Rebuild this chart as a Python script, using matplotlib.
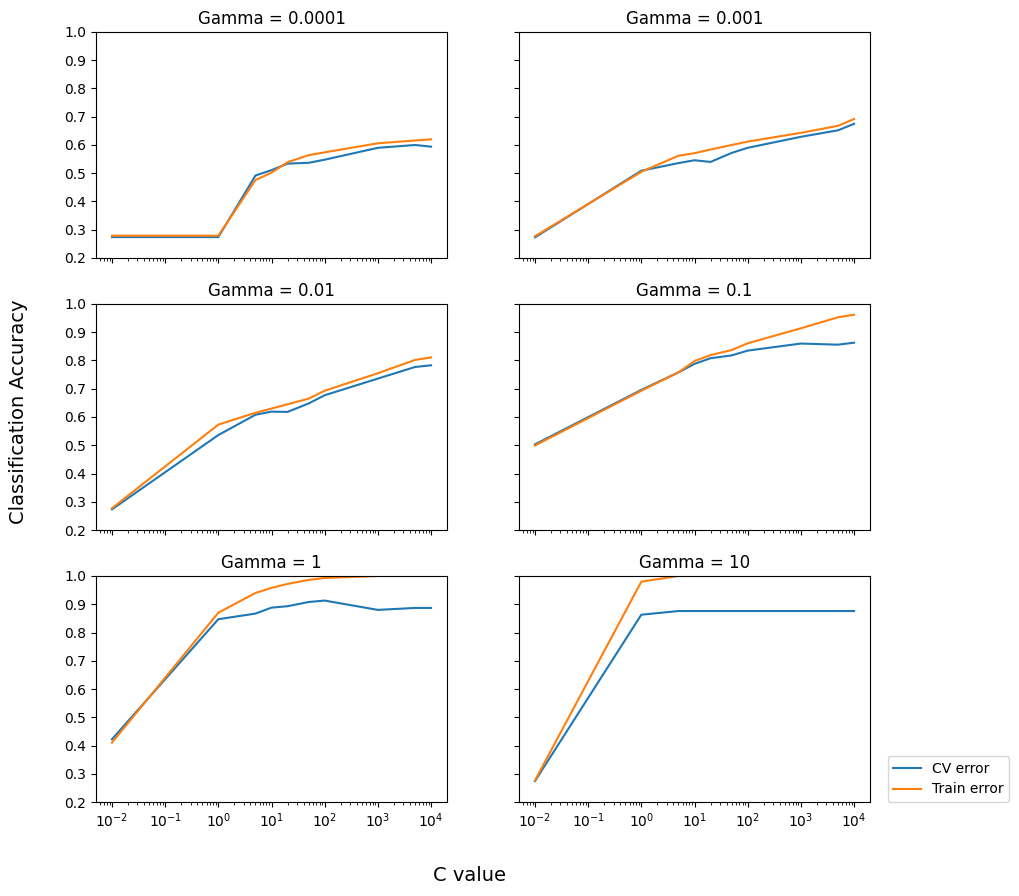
import numpy as np
import matplotlib
matplotlib.use('Agg')
import matplotlib.pyplot as plt

c_values = [0.01, 1, 5, 10, 20, 50, 100, 1000, 5000, 10000]
gammas = ['0.0001', '0.001', '0.01', '0.1', '1', '10']

# CV / train accuracy for each gamma
cv_acc = [
    [0.274, 0.274, 0.492, 0.511, 0.534, 0.537, 0.548, 0.590, 0.600, 0.594],
    [0.273, 0.509, 0.536, 0.546, 0.540, 0.572, 0.590, 0.629, 0.652, 0.675],
    [0.273, 0.536, 0.608, 0.619, 0.618, 0.648, 0.677, 0.736, 0.777, 0.783],
    [0.503, 0.696, 0.758, 0.788, 0.808, 0.818, 0.835, 0.860, 0.856, 0.863],
    [0.422, 0.847, 0.867, 0.888, 0.893, 0.908, 0.913, 0.880, 0.887, 0.887],
    [0.274, 0.863, 0.876, 0.876, 0.876, 0.876, 0.876, 0.876, 0.876, 0.876],
]
train_acc = [
    [0.279, 0.279, 0.476, 0.502, 0.539, 0.564, 0.574, 0.606, 0.616, 0.620],
    [0.277, 0.505, 0.562, 0.571, 0.584, 0.600, 0.612, 0.643, 0.668, 0.692],
    [0.277, 0.573, 0.615, 0.630, 0.645, 0.665, 0.693, 0.755, 0.802, 0.811],
    [0.499, 0.693, 0.758, 0.798, 0.819, 0.837, 0.861, 0.914, 0.953, 0.962],
    [0.410, 0.870, 0.940, 0.958, 0.972, 0.986, 0.993, 1.000, 1.000, 1.000],
    [0.276, 0.980, 1.000, 1.000, 1.000, 1.000, 1.000, 1.000, 1.000, 1.000],
]

fig, axes = plt.subplots(3, 2, sharex=True, sharey=True, figsize=(10.19, 8.96), dpi=100)
fig.subplots_adjust(left=0.0942, right=0.8538, top=0.9643, bottom=0.1049,
                    wspace=0.205, hspace=0.2035)

for i, ax in enumerate(axes.flat):
    ax.plot(c_values, cv_acc[i], label='CV error')
    ax.plot(c_values, train_acc[i], label='Train error')
    ax.set_xscale('log')
    ax.set_ylim(0.2, 1.0)
    ax.set_yticks(np.arange(0.2, 1.01, 0.1))
    ax.set_title('Gamma = ' + gammas[i], fontsize=12)

axes[2, 1].legend(loc='lower left', bbox_to_anchor=(1.05, 0), borderaxespad=0)

fig.text(0.461, 0.023, 'C value', ha='center', va='center', fontsize=14)
fig.text(0.018, 0.54, 'Classification Accuracy', ha='center', va='center',
         rotation='vertical', fontsize=14)

plt.savefig('out.png')
